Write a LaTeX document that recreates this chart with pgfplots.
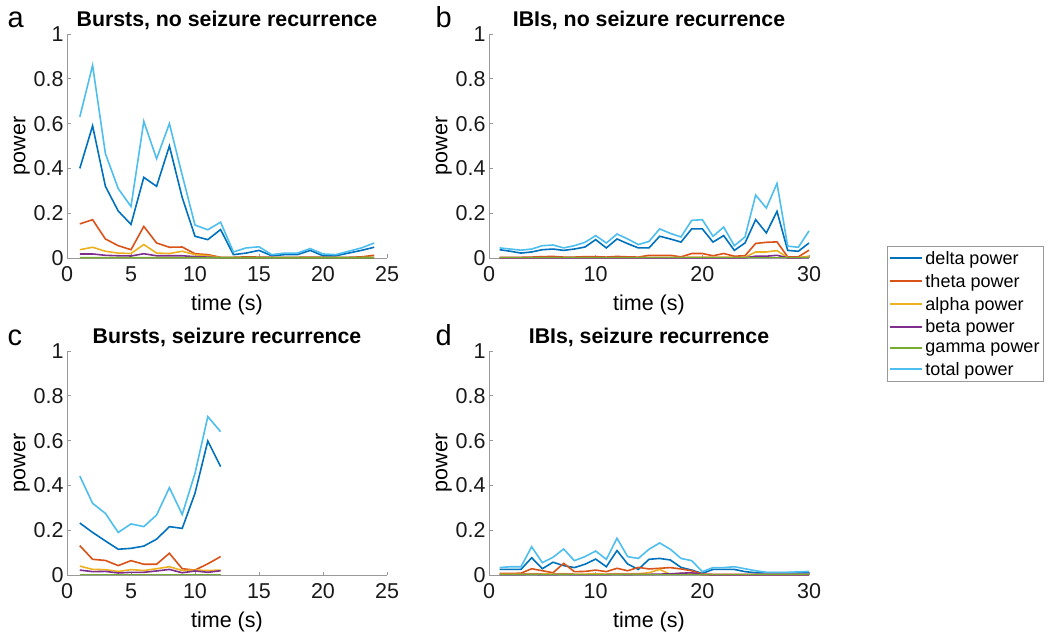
\documentclass[border=0pt]{standalone}
\usepackage{pgfplots}
\usepackage{pgfplotstable}
\pgfplotsset{compat=1.18}
\usepackage{fontspec}
\setmainfont{Liberation Sans}

\definecolor{cdelta}{rgb}{0,0.447,0.741}
\definecolor{ctheta}{rgb}{0.85,0.325,0.098}
\definecolor{calpha}{rgb}{0.929,0.694,0.125}
\definecolor{cbeta}{rgb}{0.494,0.184,0.556}
\definecolor{cgamma}{rgb}{0.466,0.674,0.188}
\definecolor{ctotal}{rgb}{0.301,0.745,0.933}
\definecolor{axgray}{rgb}{0.6,0.6,0.6}

\pgfplotstableread{
t delta theta alpha beta gamma total
1 0.40 0.152 0.037 0.018 0.002 0.63
2 0.59 0.171 0.048 0.018 0.002 0.86
3 0.32 0.085 0.030 0.012 0.002 0.466
4 0.21 0.055 0.022 0.010 0.002 0.31
5 0.15 0.037 0.020 0.009 0.002 0.23
6 0.36 0.141 0.060 0.019 0.002 0.61
7 0.32 0.067 0.022 0.010 0.002 0.443
8 0.50 0.048 0.020 0.010 0.002 0.60
9 0.27 0.049 0.030 0.010 0.002 0.37
10 0.097 0.019 0.015 0.006 0.002 0.147
11 0.082 0.015 0.010 0.004 0.002 0.126
12 0.127 0.003 0.002 0.001 0.001 0.16
13 0.015 0.003 0.002 0.001 0.001 0.027
14 0.022 0.005 0.002 0.001 0.001 0.045
15 0.034 0.004 0.002 0.001 0.001 0.05
16 0.010 0.003 0.002 0.001 0.001 0.015
17 0.015 0.003 0.002 0.001 0.001 0.022
18 0.015 0.003 0.002 0.001 0.001 0.022
19 0.034 0.004 0.002 0.001 0.001 0.042
20 0.010 0.003 0.002 0.001 0.001 0.018
21 0.010 0.003 0.002 0.001 0.001 0.015
22 0.022 0.003 0.002 0.001 0.001 0.03
23 0.034 0.005 0.002 0.001 0.001 0.045
24 0.048 0.012 0.003 0.001 0.001 0.067
}\dataA

\pgfplotstableread{
t delta theta alpha beta gamma total
1 0.037 0.003 0.002 0.001 0.002 0.045
2 0.030 0.003 0.002 0.001 0.002 0.040
3 0.022 0.003 0.002 0.001 0.002 0.035
4 0.027 0.004 0.002 0.001 0.002 0.040
5 0.037 0.006 0.002 0.001 0.002 0.055
6 0.040 0.007 0.002 0.001 0.002 0.058
7 0.034 0.004 0.002 0.001 0.002 0.045
8 0.040 0.004 0.002 0.001 0.002 0.055
9 0.049 0.006 0.002 0.001 0.002 0.070
10 0.082 0.006 0.002 0.001 0.002 0.100
11 0.045 0.004 0.002 0.001 0.002 0.067
12 0.085 0.007 0.002 0.001 0.002 0.107
13 0.064 0.005 0.002 0.001 0.002 0.085
14 0.045 0.004 0.002 0.001 0.002 0.060
15 0.045 0.012 0.003 0.001 0.002 0.074
16 0.097 0.012 0.003 0.001 0.002 0.130
17 0.085 0.012 0.003 0.001 0.002 0.110
18 0.071 0.005 0.002 0.001 0.002 0.094
19 0.130 0.020 0.004 0.001 0.002 0.168
20 0.130 0.020 0.004 0.001 0.002 0.171
21 0.071 0.010 0.003 0.001 0.002 0.097
22 0.100 0.020 0.004 0.001 0.002 0.138
23 0.034 0.008 0.003 0.001 0.002 0.055
24 0.067 0.010 0.003 0.001 0.002 0.094
25 0.171 0.065 0.027 0.008 0.002 0.281
26 0.112 0.070 0.027 0.008 0.002 0.223
27 0.208 0.072 0.033 0.012 0.002 0.333
28 0.034 0.005 0.002 0.001 0.002 0.053
29 0.030 0.005 0.002 0.001 0.002 0.048
30 0.067 0.035 0.008 0.002 0.002 0.121
}\dataB

\pgfplotstableread{
t delta theta alpha beta gamma total
1 0.232 0.131 0.040 0.022 0.002 0.442
2 0.190 0.070 0.025 0.015 0.002 0.320
3 0.152 0.065 0.024 0.016 0.002 0.275
4 0.115 0.042 0.016 0.009 0.002 0.190
5 0.119 0.064 0.024 0.012 0.002 0.228
6 0.129 0.048 0.020 0.012 0.002 0.216
7 0.160 0.048 0.028 0.018 0.002 0.268
8 0.216 0.097 0.037 0.025 0.002 0.390
9 0.208 0.028 0.020 0.010 0.002 0.270
10 0.365 0.022 0.022 0.018 0.002 0.454
11 0.598 0.050 0.020 0.012 0.002 0.707
12 0.484 0.082 0.022 0.019 0.002 0.640
}\dataC

\pgfplotstableread{
t delta theta alpha beta gamma total
1 0.025 0.007 0.004 0.002 0.002 0.033
2 0.025 0.007 0.004 0.002 0.002 0.037
3 0.025 0.008 0.004 0.002 0.002 0.037
4 0.077 0.028 0.006 0.003 0.002 0.126
5 0.028 0.019 0.005 0.002 0.002 0.055
6 0.057 0.010 0.004 0.002 0.002 0.079
7 0.042 0.052 0.006 0.003 0.002 0.116
8 0.033 0.015 0.004 0.002 0.002 0.064
9 0.048 0.016 0.004 0.002 0.002 0.082
10 0.071 0.022 0.005 0.002 0.002 0.107
11 0.037 0.015 0.004 0.002 0.002 0.070
12 0.109 0.030 0.006 0.003 0.002 0.164
13 0.049 0.019 0.005 0.002 0.002 0.082
14 0.025 0.034 0.006 0.003 0.002 0.074
15 0.070 0.027 0.010 0.003 0.002 0.115
16 0.074 0.030 0.025 0.004 0.002 0.143
17 0.067 0.033 0.003 0.005 0.002 0.115
18 0.034 0.027 0.008 0.008 0.002 0.074
19 0.022 0.019 0.006 0.010 0.002 0.064
20 0.007 0.004 0.002 0.002 0.002 0.015
21 0.025 0.003 0.002 0.001 0.002 0.033
22 0.025 0.003 0.002 0.001 0.002 0.033
23 0.025 0.003 0.002 0.001 0.002 0.037
24 0.015 0.003 0.002 0.001 0.002 0.028
25 0.010 0.003 0.002 0.001 0.002 0.019
26 0.010 0.003 0.002 0.001 0.002 0.012
27 0.010 0.003 0.002 0.001 0.002 0.012
28 0.010 0.003 0.002 0.001 0.002 0.012
29 0.010 0.003 0.002 0.001 0.002 0.014
30 0.010 0.003 0.002 0.001 0.002 0.016
}\dataD

\pgfplotsset{
  panel/.style={
    scale only axis,
    width=320pt, height=224pt,
    ymin=0, ymax=1,
    ytick={0,0.2,0.4,0.6,0.8,1},
    axis lines*=left,
    axis line style={draw=axgray, line width=0.8pt},
    tick style={draw=axgray, line width=0.8pt},
    tick align=inside,
    major tick length=3.5pt,
    tick label style={font=\fontsize{21.5}{24}\selectfont, text=black!90},
    xticklabel style={yshift=-5pt},
    /pgf/number format/assume math mode=true,
    label style={font=\fontsize{21.5}{24}\selectfont},
    title style={font=\fontsize{21.3}{24}\selectfont\bfseries, yshift=-5pt},
    xlabel={time (s)},
    ylabel={power},
    xlabel style={yshift=-6pt},
    ylabel style={yshift=-3pt},
    every axis plot/.append style={line width=1.6pt, mark=none},
    clip=false,
  },
}

\newcommand{\plotall}[1]{%
  \addplot[cdelta] table[x=t,y=delta] {#1};
  \addplot[ctheta] table[x=t,y=theta] {#1};
  \addplot[calpha] table[x=t,y=alpha] {#1};
  \addplot[cbeta] table[x=t,y=beta] {#1};
  \addplot[cgamma] table[x=t,y=gamma] {#1};
  \addplot[ctotal] table[x=t,y=total] {#1};
}

\begin{document}
\begin{tikzpicture}
\path[use as bounding box] (0pt,0pt) rectangle (1050pt,641pt);

\begin{axis}[panel, at={(67pt,383pt)}, anchor=south west,
  xmin=0, xmax=25, xtick={0,5,10,15,20,25},
  title={Bursts, no seizure recurrence}]
\plotall{\dataA}
\end{axis}

\begin{axis}[panel, at={(489pt,383pt)}, anchor=south west,
  xmin=0, xmax=30, xtick={0,10,20,30},
  title={IBIs, no seizure recurrence},
  legend style={at={(1.244,0.054)}, anchor=north west,
    draw=axgray, line width=0.8pt,
    font=\fontsize{18}{20}\selectfont,
    inner xsep=2pt, inner ysep=3pt,
    row sep=4.3pt,
    /tikz/every even column/.append style={column sep=2pt}},
  legend cell align=left,
  legend image code/.code={\draw[#1, line width=2pt] (0pt,0.5pt) -- (32pt,0.5pt);}]
\plotall{\dataB}
\legend{delta power, theta power, alpha power, beta power, gamma power, total power}
\end{axis}

\begin{axis}[panel, at={(67pt,66pt)}, anchor=south west,
  xmin=0, xmax=25, xtick={0,5,10,15,20,25},
  title={Bursts, seizure recurrence}]
\plotall{\dataC}
\end{axis}

\begin{axis}[panel, at={(489pt,66pt)}, anchor=south west,
  xmin=0, xmax=30, xtick={0,10,20,30},
  title={IBIs, seizure recurrence}]
\plotall{\dataD}
\end{axis}

\node[font=\fontsize{29}{32}\selectfont, anchor=base west] at (4pt,613pt) {a};
\node[font=\fontsize{29}{32}\selectfont, anchor=base west] at (432pt,613pt) {b};
\node[font=\fontsize{29}{32}\selectfont, anchor=base west] at (4pt,296pt) {c};
\node[font=\fontsize{29}{32}\selectfont, anchor=base west] at (432pt,296pt) {d};
\end{tikzpicture}
\end{document}
